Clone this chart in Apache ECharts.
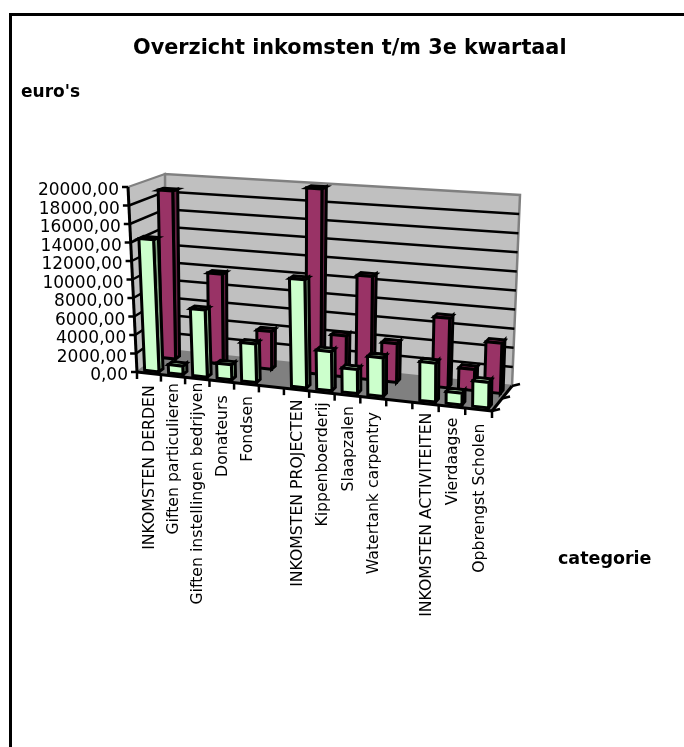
<!DOCTYPE html>
<html lang="en">
<head>
    <meta charset="UTF-8">
    <title>Overzicht inkomsten</title>
    <script src="https://cdn.jsdelivr.net/npm/echarts@6/dist/echarts.min.js"></script>
    <style>
        html, body { margin: 0; padding: 0; background: #fff; }
        #chart { width: 684px; height: 747px; }
    </style>
</head>
<body>
<div id="chart"></div>
<script>
    var categories = ['INKOMSTEN DERDEN', 'Giften particulieren', 'Giften instellingen bedrijven', 'Donateurs', 'Fondsen', '',
        'INKOMSTEN PROJECTEN', 'Kippenboerderij', 'Slaapzalen', 'Watertank carpentry', '',
        'INKOMSTEN ACTIVITEITEN', 'Vierdaagse', 'Opbrengst Scholen'];
    var frontValues = [14300, 900, 7200, 1600, 4100, null, 11400, 4100, 2500, 4000, null, 4000, 1200, 2600];
    var backValues = [18700, null, 9900, null, 4100, null, 20000, 4400, 11000, 4100, null, 7300, 2200, 5200];
    var yTicks = [0, 2000, 4000, 6000, 8000, 10000, 12000, 14000, 16000, 18000, 20000];
    // small per label nudge below the floor edge, the labels do not follow the edge exactly
    var labelGaps = [12, 7, 4, 14, 12, 0, 10, 10, 11, 14, 0, 9, 11, 14];

    // plot box of the hidden axes
    var G = {left: 137, top: 187, width: 355, height: 185};

    // corners of the 3d box on screen
    var C = {
        fbl: [137, 372], ftl: [128, 187], fbr: [492, 411], ftr: [494, 214],
        bbl: [166, 350], btl: [165, 174], bbr: [512, 386], btr: [520, 195]
    };

    function mix(a, b, k) {
        return [a[0] + (b[0] - a[0]) * k, a[1] + (b[1] - a[1]) * k];
    }

    // t along the categories, d into the depth, h up the value axis
    function box(t, d, h) {
        var w = 0.94 * t + 0.06 * t * t; // slight perspective
        var fb = mix(C.fbl, C.fbr, w), ft = mix(C.ftl, C.ftr, w);
        var bb = mix(C.bbl, C.bbr, w), bt = mix(C.btl, C.btr, w);
        return mix(mix(fb, ft, h), mix(bb, bt, h), d);
    }

    // api.coord gives the flat position, this folds it into the box
    function fold(p, d) {
        return box((p[0] - G.left) / G.width, d, (G.top + G.height - p[1]) / G.height);
    }

    function poly(points, fill, stroke, lw) {
        return {type: 'polygon', shape: {points: points},
            style: {fill: fill, stroke: stroke, lineWidth: lw, lineJoin: 'miter'}};
    }

    function seg(a, b, color, lw) {
        return {type: 'line', shape: {x1: a[0], y1: a[1], x2: b[0], y2: b[1]},
            style: {stroke: color, lineWidth: lw}};
    }

    function renderBox(params, api) {
        var n = categories.length, kids = [], i, k;
        var xAt = function (u) { // u can be a tick between two categories
            return api.coord([0, 0])[0] + (u - 0.5) * api.size([1, 0])[0];
        };
        var y0 = api.coord([0, 0])[1], yMax = api.coord([0, 20000])[1];

        // floor and walls
        kids.push(poly([C.fbl, C.bbl, C.bbr, C.fbr], '#808080', '#808080', 1));
        kids.push(poly([C.fbl, C.ftl, C.btl, C.bbl], '#c0c0c0', '#808080', 2));
        kids.push(poly([C.bbl, C.btl, C.btr, C.bbr], '#c0c0c0', '#808080', 2.5));

        // gridlines on both walls
        for (i = 1; i < yTicks.length - 1; i++) {
            var gy = api.coord([0, yTicks[i]])[1];
            var a = fold([G.left, gy], 0), b = fold([G.left, gy], 1), c = fold([G.left + G.width, gy], 1);
            kids.push(seg(a, b, '#000', 2.5));
            kids.push(seg(b, c, '#000', 2.5));
        }

        // value axis with ticks and labels
        kids.push(seg(fold([G.left, y0], 0), fold([G.left, yMax], 0), '#000', 3));
        for (i = 0; i < yTicks.length; i++) {
            var ty = api.coord([0, yTicks[i]])[1];
            var p = fold([G.left, ty], 0);
            kids.push(seg(p, [p[0] - 6, p[1]], '#000', 2.5));
            kids.push({type: 'text', style: {
                text: yTicks[i].toFixed(2).replace('.', ','),
                x: p[0] - 9, y: p[1] + 4, align: 'right', verticalAlign: 'middle',
                font: '17px "DejaVu Sans"', fill: '#000'
            }});
        }

        // category edge, ticks and labels
        kids.push(seg(C.fbl, C.fbr, '#000', 3));
        for (k = 0; k <= n; k++) {
            var q = fold([xAt(k), y0], 0);
            kids.push(seg(q, [q[0], q[1] + 7], '#000', 2.5));
        }
        for (k = 0; k < n; k++) {
            if (!categories[k]) continue;
            var m = fold(api.coord([k, 0]), 0);
            kids.push({type: 'text', x: m[0] + 1, y: m[1] + labelGaps[k], rotation: Math.PI / 2, style: {
                text: categories[k], x: 0, y: 0, align: 'right', verticalAlign: 'middle',
                font: '15.7px "DejaVu Sans"', fill: '#000'
            }});
        }

        // depth edge with its ticks
        kids.push(seg(C.fbr, C.bbr, '#000', 3));
        [0, 0.5, 1].forEach(function (d) {
            var e = fold([G.left + G.width, y0], d);
            kids.push(seg(e, [e[0] + 8, e[1] - 2], '#000', 2.5));
        });
        return {type: 'group', children: kids};
    }

    function barRenderer(d0, d1, front, side, top) {
        return function (params, api) {
            var cat = api.value(0), val = api.value(1);
            var base = api.coord([cat, 0]), head = api.coord([cat, val]);
            var hw = api.size([1, 0])[0] * 0.3;
            var x0 = base[0] - hw, x1 = base[0] + hw;
            var bl = fold([x0, base[1]], d0), br = fold([x1, base[1]], d0);
            var tl = fold([x0, head[1]], d0), tr = fold([x1, head[1]], d0);
            var rb = fold([x1, base[1]], d1), rt = fold([x1, head[1]], d1), lt = fold([x0, head[1]], d1);
            return {type: 'group', children: [
                poly([br, rb, rt, tr], side, '#000', 3),
                poly([tl, lt, rt, tr], top, '#000', 3),
                poly([bl, tl, tr, br], front, '#000', 3)
            ]};
        };
    }

    function pairs(values) {
        var out = [];
        values.forEach(function (v, i) { if (v !== null) out.push([i, v]); });
        return out;
    }

    var chart = echarts.init(document.getElementById('chart'), null, {renderer: 'canvas'});
    chart.setOption({
        animation: false,
        backgroundColor: '#fff',
        title: [
            {text: 'Overzicht inkomsten t/m 3e kwartaal', left: 133, top: 38, padding: 0,
                textStyle: {fontFamily: 'DejaVu Sans', fontWeight: 'bold', fontSize: 20.8, color: '#000'}},
            {text: "euro's", left: 21, top: 84, padding: 0,
                textStyle: {fontFamily: 'DejaVu Sans', fontWeight: 'bold', fontSize: 17, color: '#000'}},
            {text: 'categorie', left: 558, top: 550, padding: 0,
                textStyle: {fontFamily: 'DejaVu Sans', fontWeight: 'bold', fontSize: 17.5, color: '#000'}}
        ],
        graphic: [
            {type: 'rect', left: 9, top: 13, shape: {width: 3, height: 734}, style: {fill: '#000'}},
            {type: 'rect', left: 9, top: 13, shape: {width: 675, height: 3}, style: {fill: '#000'}}
        ],
        grid: {left: G.left, top: G.top, width: G.width, height: G.height, show: false},
        xAxis: {type: 'category', data: categories, show: false},
        yAxis: {type: 'value', min: 0, max: 20000, interval: 2000, show: false},
        series: [
            {type: 'custom', name: 'box', data: [[0, 0]], renderItem: renderBox, silent: true, z: 1},
            {type: 'custom', name: 'achter', data: pairs(backValues), encode: {x: 0, y: 1}, silent: true, z: 2,
                renderItem: barRenderer(0.68, 0.82, '#993366', '#662244', '#993366')},
            {type: 'custom', name: 'voor', data: pairs(frontValues), encode: {x: 0, y: 1}, silent: true, z: 3,
                renderItem: barRenderer(0.1, 0.24, '#ccffcc', '#88aa88', '#ccffcc')}
        ]
    });
</script>
</body>
</html>
